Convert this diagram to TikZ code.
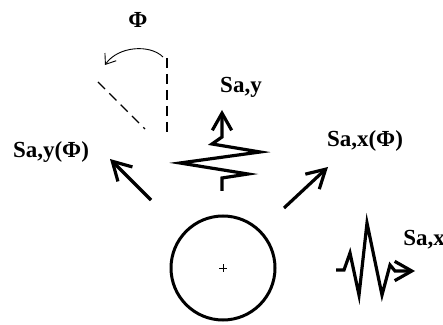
\documentclass[tikz,border=0pt]{standalone}
\usepackage{fontspec}
\setmainfont{Liberation Serif}
\usetikzlibrary{arrows.meta}
\tikzset{
  ar/.style={-{Straight Barb[length=3.2mm,width=3.6mm]},line width=1.6pt},
  thn/.style={-{Straight Barb[length=1.6mm,width=2.4mm]},line width=0.45pt},
  dsh/.style={line width=0.6pt,dash pattern=on 5pt off 3pt},
  lbl/.style={font=\fontsize{11.5}{13}\selectfont\bfseries,inner sep=0pt}
}
\begin{document}
\begin{tikzpicture}[x=0.5pt,y=-0.5pt]
\useasboundingbox (0,0) rectangle (443,325);
% body
\node[circle,draw,line width=1.5pt,minimum size=52pt,inner sep=0pt] (mass) at (223,268) {};
\draw[line width=0.5pt] (219,268) -- (227,268) (223,264) -- (223,272);
% labels
\node[lbl] (phi) at (138,20) {Φ};
\node[lbl] (say) at (241,87) {Sa,y};
\node[lbl] (sayphi) at (51,152) {Sa,y(Φ)};
\node[lbl] (saxphi) at (365,141) {Sa,x(Φ)};
\node[lbl,anchor=west] (sax) at (403,240) {Sa,x};
% rotated directions
\coordinate (ay0) at (151,200);
\coordinate (ay1) at (110,159);
\coordinate (ax0) at (284,208);
\coordinate (ax1) at (328,167);
\draw[ar] (ay0) -- (ay1);
\draw[ar] (ax0) -- (ax1);
% angle
\draw[dsh] (167,58) -- (167,136);
\draw[dsh] (98,82) -- (145,129);
\draw[thn] (163,57) .. controls (150,44) and (118,46) .. (105,65);
% vertical record
\draw[line width=1.6pt,line join=miter,-{Straight Barb[length=3mm,width=3.4mm]}]
  (222,191) -- (222,178) -- (248,174) -- (180,163) -- (260,152)
  -- (212,144) -- (222,137) -- (222,110);
% horizontal record
\draw[line width=1.6pt,line join=miter,-{Straight Barb[length=3mm,width=3.4mm]}]
  (336,270) -- (344,270) -- (350,253) -- (359,295) -- (367,223)
  -- (382,295) -- (390,265) -- (395,271) -- (415,271);
\end{tikzpicture}
\end{document}
